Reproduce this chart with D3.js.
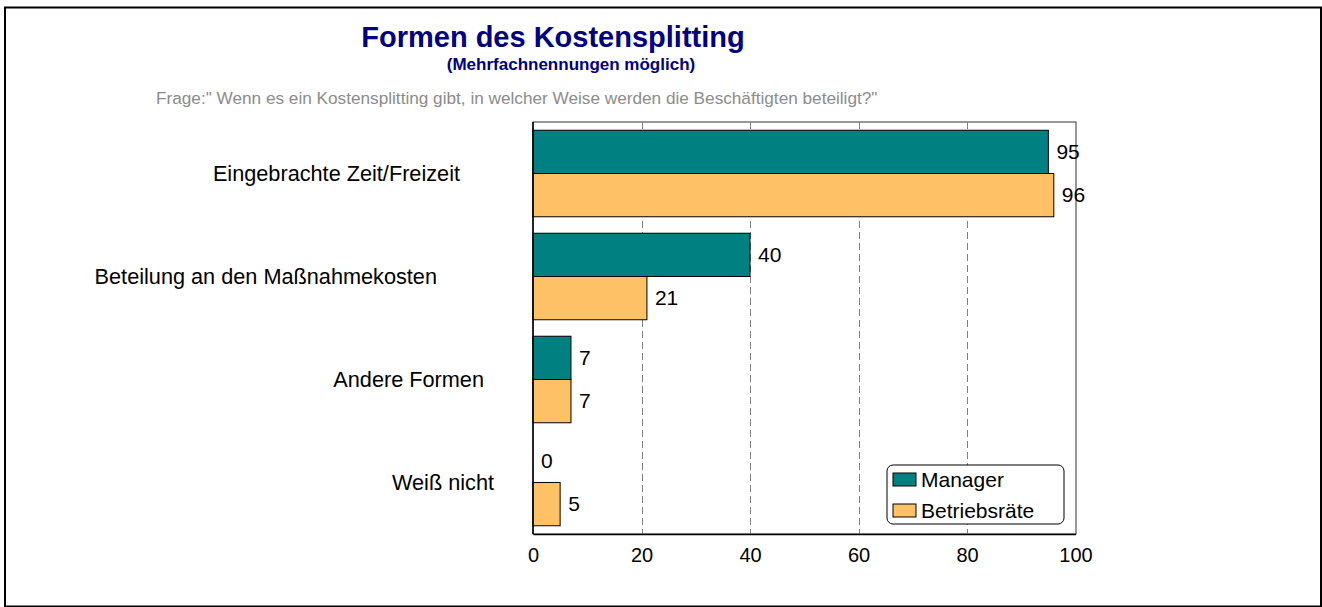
<!DOCTYPE html>
<html>
<head>
<meta charset="utf-8">
<script src="https://cdn.jsdelivr.net/npm/d3@7"></script>
<style>
  body { margin: 0; background: #fff; }
  text { font-family: "Liberation Sans", Arial, sans-serif; }
</style>
</head>
<body>
<div id="chart"></div>
<script>
var categories = ["Eingebrachte Zeit/Freizeit", "Beteilung an den Maßnahmekosten", "Andere Formen", "Weiß nicht"];
var seriesNames = ["Manager", "Betriebsräte"];
var manager = [95, 40, 7, 0];
var betriebsraete = [96, 21, 7, 5];
var xTicks = [0, 20, 40, 60, 80, 100];
var colors = ["#008080", "#FFC166"];
// category labels in the original sit at uneven distances from the axis
var labelGap = [73, 96, 49, 39];

var W = 1322, H = 607;
var plot = { left: 533, right: 1076, top: 122, bottom: 534 };

var svg = d3.select("#chart").append("svg")
  .attr("width", W).attr("height", H);

// outer frame
svg.append("rect")
  .attr("x", 5).attr("y", 7.5)
  .attr("width", 1316).attr("height", 599)
  .style("fill", "none").style("stroke", "#000").style("stroke-width", 2);

// titles
svg.append("text")
  .attr("x", 553).attr("y", 47)
  .attr("text-anchor", "middle")
  .style("font-size", "29px").style("font-weight", "bold").style("fill", "#000080")
  .text("Formen des Kostensplitting");
svg.append("text")
  .attr("x", 571).attr("y", 70)
  .attr("text-anchor", "middle")
  .style("font-size", "17px").style("font-weight", "bold").style("fill", "#000080")
  .text("(Mehrfachnennungen möglich)");
svg.append("text")
  .attr("x", 156).attr("y", 104)
  .style("font-size", "17.2px").style("fill", "#8c8c8c")
  .text("Frage:\" Wenn es ein Kostensplitting gibt, in welcher Weise werden die Beschäftigten beteiligt?\"");

var x = d3.scaleLinear().domain([0, 100]).range([plot.left, plot.right - 0.5]);
var y = d3.scaleBand().domain(categories).range([plot.top, plot.bottom])
  .paddingInner(0.16).paddingOuter(0.08);
var ySub = d3.scaleBand().domain(seriesNames).range([0, y.bandwidth()]);

var data = categories.map(function (c, i) {
  return { cat: c, values: [manager[i], betriebsraete[i]] };
});

// plot frame (top/right)
svg.append("rect")
  .attr("x", plot.left).attr("y", plot.top)
  .attr("width", plot.right - plot.left).attr("height", plot.bottom - plot.top)
  .style("fill", "none").style("stroke", "#333").style("stroke-width", 1);

// grid
svg.append("g").selectAll("line")
  .data(xTicks.filter(function (t) { return t > 0 && t < 100; }))
  .enter().append("line")
  .attr("x1", function (d) { return Math.round(x(d)) + 0.5; })
  .attr("x2", function (d) { return Math.round(x(d)) + 0.5; })
  .attr("y1", plot.top).attr("y2", plot.bottom)
  .style("stroke", "#808080").style("stroke-width", 1)
  .style("stroke-dasharray", "7,4");

// bars
var groups = svg.append("g").selectAll("g")
  .data(data).enter().append("g")
  .attr("transform", function (d) { return "translate(0," + y(d.cat) + ")"; });

groups.selectAll("rect")
  .data(function (d) { return d.values; })
  .enter().append("rect")
  .attr("x", x(0))
  .attr("y", function (d, i) { return ySub(seriesNames[i]); })
  .attr("width", function (d) { return x(d) - x(0); })
  .attr("height", ySub.bandwidth())
  .style("fill", function (d, i) { return colors[i]; })
  .style("stroke", "#000").style("stroke-width", 1);

groups.selectAll("text")
  .data(function (d) { return d.values; })
  .enter().append("text")
  .attr("x", function (d) { return x(d) + 8; })
  .attr("y", function (d, i) { return ySub(seriesNames[i]) + ySub.bandwidth() / 2 + 7; })
  .style("font-size", "21px").style("fill", "#000")
  .text(function (d) { return d; });

// axes
svg.append("line")
  .attr("x1", plot.left).attr("x2", plot.left)
  .attr("y1", plot.top).attr("y2", plot.bottom)
  .style("stroke", "#000").style("stroke-width", 1.5);

var xAxis = svg.append("g")
  .attr("transform", "translate(0," + plot.bottom + ")")
  .call(d3.axisBottom(x).tickValues(xTicks).tickSize(0).tickPadding(14));
xAxis.select(".domain").style("stroke", "#000").style("stroke-width", 1.5);
xAxis.selectAll("text")
  .style("font-size", "20px").style("font-family", "Liberation Sans, Arial, sans-serif")
  .style("fill", "#000");

// category labels
svg.append("g").selectAll("text")
  .data(categories).enter().append("text")
  .attr("x", function (d, i) { return plot.left - labelGap[i]; })
  .attr("y", function (d) { return y(d) + y.bandwidth() / 2 + 7; })
  .attr("text-anchor", "end")
  .style("font-size", "21.7px").style("fill", "#000")
  .text(function (d) { return d; });

// legend
var legend = svg.append("g").attr("transform", "translate(887,465)");
legend.append("rect")
  .attr("width", 177).attr("height", 59).attr("rx", 6)
  .style("fill", "#fff").style("stroke", "#000").style("stroke-width", 1);
seriesNames.forEach(function (s, i) {
  var row = legend.append("g").attr("transform", "translate(6," + (8 + i * 31) + ")");
  row.append("rect")
    .attr("width", 23).attr("height", 13)
    .style("fill", colors[i]).style("stroke", "#000").style("stroke-width", 1);
  row.append("text")
    .attr("x", 28).attr("y", 14)
    .style("font-size", "21px").style("fill", "#000")
    .text(s);
});
</script>
</body>
</html>
